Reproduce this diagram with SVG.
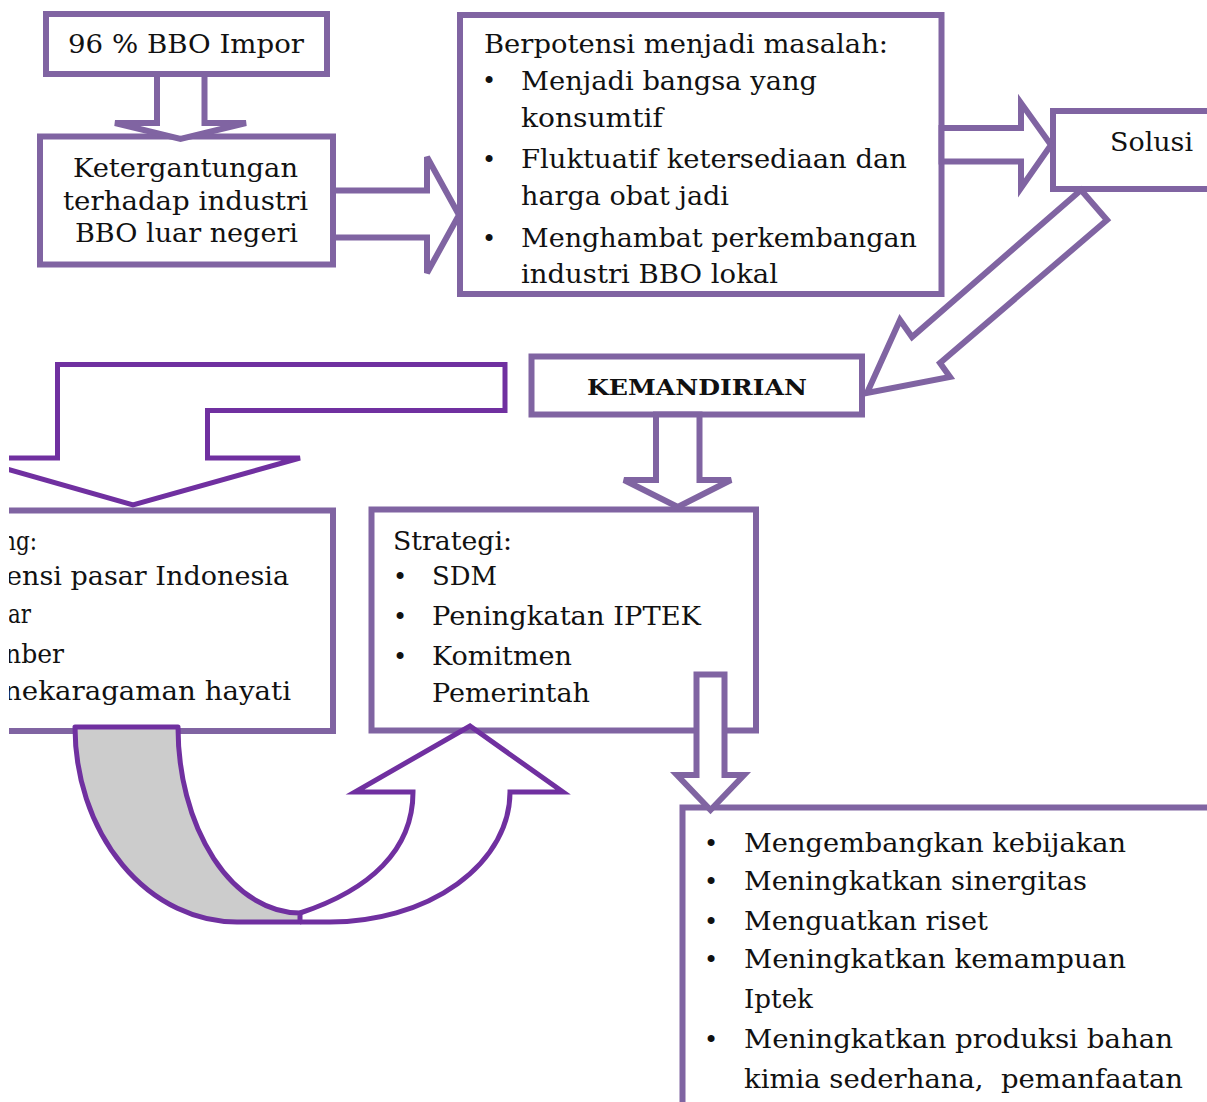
<svg xmlns="http://www.w3.org/2000/svg" width="1207" height="1102" viewBox="0 0 1207 1102">
<style>
.box{fill:#fff;stroke:#8064A2;stroke-width:6}
.arr{fill:#fff;stroke:#8064A2;stroke-width:6;stroke-linejoin:miter}
.arr2{fill:#fff;stroke:#7030A0;stroke-width:5;stroke-linejoin:miter}
.t{font-family:"DejaVu Serif","Liberation Serif",serif;font-size:26px;fill:#111}
.b{font-family:"DejaVu Serif","Liberation Serif",serif;font-size:24px;fill:#111;text-anchor:middle}
.k{font-family:"DejaVu Serif","Liberation Serif",serif;font-size:22px;font-weight:bold;fill:#111}
</style>
<defs>
<clipPath id="cut"><rect x="9" y="0" width="1200" height="1102"/></clipPath>
</defs>
<rect width="1207" height="1102" fill="#fff"/>

<g id="n-impor">
<rect class="box" x="46" y="14" width="281" height="60"/>
<text class="t" x="68" y="53" textLength="236" lengthAdjust="spacingAndGlyphs">96 % BBO Impor</text>
</g>

<g id="n-ketergantungan">
<rect class="box" x="40" y="136.5" width="293" height="128"/>
<text class="t" x="73" y="177" textLength="225" lengthAdjust="spacingAndGlyphs">Ketergantungan</text>
<text class="t" x="63" y="210" textLength="245" lengthAdjust="spacingAndGlyphs">terhadap industri</text>
<text class="t" x="75" y="242" textLength="223" lengthAdjust="spacingAndGlyphs">BBO luar negeri</text>
</g>

<g id="n-masalah">
<rect class="box" x="460" y="15" width="481.5" height="279"/>
<text class="t" x="484" y="53" textLength="404" lengthAdjust="spacingAndGlyphs">Berpotensi menjadi masalah:</text>
<text class="b" x="489" y="89">•</text>
<text class="t" x="521" y="90" textLength="296" lengthAdjust="spacingAndGlyphs">Menjadi bangsa yang</text>
<text class="t" x="521" y="127" textLength="142" lengthAdjust="spacingAndGlyphs">konsumtif</text>
<text class="b" x="489" y="168">•</text>
<text class="t" x="521" y="168" textLength="386" lengthAdjust="spacingAndGlyphs">Fluktuatif ketersediaan dan</text>
<text class="t" x="521" y="205" textLength="208" lengthAdjust="spacingAndGlyphs">harga obat jadi</text>
<text class="b" x="489" y="247">•</text>
<text class="t" x="521" y="247" textLength="396" lengthAdjust="spacingAndGlyphs">Menghambat perkembangan</text>
<text class="t" x="521" y="283" textLength="257" lengthAdjust="spacingAndGlyphs">industri BBO lokal</text>
</g>

<g id="n-solusi">
<rect class="box" x="1053" y="111" width="170" height="78"/>
<text class="t" x="1110" y="151" textLength="83" lengthAdjust="spacingAndGlyphs">Solusi</text>
</g>

<g id="n-kemandirian">
<rect class="box" x="531.5" y="356.5" width="330.5" height="58"/>
<text class="k" x="587" y="395" textLength="220" lengthAdjust="spacingAndGlyphs">KEMANDIRIAN</text>
</g>

<g id="n-peluang">
<path d="M0,510.5 H333 V731 H0" fill="#fff" stroke="#8064A2" stroke-width="6" clip-path="url(#cut)"/>
<g clip-path="url(#cut)">
<text class="t" x="2" y="550" textLength="35" lengthAdjust="spacingAndGlyphs">ng:</text>
<text class="t" x="6" y="585" textLength="283" lengthAdjust="spacingAndGlyphs">ensi pasar Indonesia</text>
<text class="t" x="8" y="623" textLength="23" lengthAdjust="spacingAndGlyphs">ar</text>
<text class="t" x="5" y="663" textLength="59" lengthAdjust="spacingAndGlyphs">nber</text>
<text class="t" x="4" y="700" textLength="287" lengthAdjust="spacingAndGlyphs">nekaragaman hayati</text>
</g>
</g>

<g id="n-strategi">
<rect class="box" x="371.5" y="509.5" width="384.5" height="221"/>
<text class="t" x="393" y="550" textLength="119" lengthAdjust="spacingAndGlyphs">Strategi:</text>
<text class="b" x="400" y="585">•</text>
<text class="t" x="432" y="585" textLength="65" lengthAdjust="spacingAndGlyphs">SDM</text>
<text class="b" x="400" y="625">•</text>
<text class="t" x="432" y="625" textLength="269" lengthAdjust="spacingAndGlyphs">Peningkatan IPTEK</text>
<text class="b" x="400" y="665">•</text>
<text class="t" x="432" y="665" textLength="140" lengthAdjust="spacingAndGlyphs">Komitmen</text>
<text class="t" x="432" y="702" textLength="158" lengthAdjust="spacingAndGlyphs">Pemerintah</text>
</g>

<g id="n-program">
<rect class="box" x="682.5" y="807.5" width="540" height="320"/>
<text class="b" x="711" y="852">•</text>
<text class="t" x="744" y="852" textLength="382" lengthAdjust="spacingAndGlyphs">Mengembangkan kebijakan</text>
<text class="b" x="711" y="890">•</text>
<text class="t" x="744" y="890" textLength="343" lengthAdjust="spacingAndGlyphs">Meningkatkan sinergitas</text>
<text class="b" x="711" y="930">•</text>
<text class="t" x="744" y="930" textLength="244" lengthAdjust="spacingAndGlyphs">Menguatkan riset</text>
<text class="b" x="711" y="968">•</text>
<text class="t" x="744" y="968" textLength="382" lengthAdjust="spacingAndGlyphs">Meningkatkan kemampuan</text>
<text class="t" x="744" y="1008" textLength="69" lengthAdjust="spacingAndGlyphs">Iptek</text>
<text class="b" x="711" y="1048">•</text>
<text class="t" x="744" y="1048" textLength="429" lengthAdjust="spacingAndGlyphs">Meningkatkan produksi bahan</text>
<text class="t" x="744" y="1088" textLength="439" lengthAdjust="spacingAndGlyphs" xml:space="preserve">kimia sederhana,  pemanfaatan</text>
</g>

<g id="connectors">
<path class="arr" d="M157,74 L157,123 L115,123 L180.5,139 L246,123 L204.5,123 L204.5,74 Z"/>
<path class="arr" d="M333,190.5 L427,190.5 L427,157 L459,215 L427,273 L427,237.5 L333,237.5 Z"/>
<path class="arr" d="M941.5,128 L1021,128 L1021,103 L1051,145 L1021,188 L1021,161.5 L941.5,161.5 Z"/>
<path class="arr" d="M1081,190 L912,337 L900,320 L867,393 L950,377 L940,363 L1107,220 Z" stroke-width="5"/>
<path class="arr" d="M656,414.5 L656,480 L624,480 L677.75,507 L731,480 L699.5,480 L699.5,414.5 Z"/>
<path class="arr2" d="M0,458 L57.5,458 L57.5,364.5 L505,364.5 L505,410.5 L207.5,410.5 L207.5,458 L300,458 L133,505 L0,467" clip-path="url(#cut)"/>
<path d="M75,727 L178,727 A122,186 0 0 0 300,913 L300,922 L237,922 A162,195 0 0 1 75,727 Z" fill="#CCCCCC" stroke="#7030A0" stroke-width="5" stroke-linejoin="round"/>
<path d="M300,913 C370,890 413,850 413,792 L355,792 L470,726 L563,792 L510,792 A180,130 0 0 1 330,922 L300,922" fill="none" stroke="#7030A0" stroke-width="5" stroke-linejoin="miter"/>
<path class="arr" d="M696.5,674.5 L724.5,674.5 L724.5,775 L744,775 L710.5,810 L677,775 L696.5,775 Z"/>
</g>
</svg>
